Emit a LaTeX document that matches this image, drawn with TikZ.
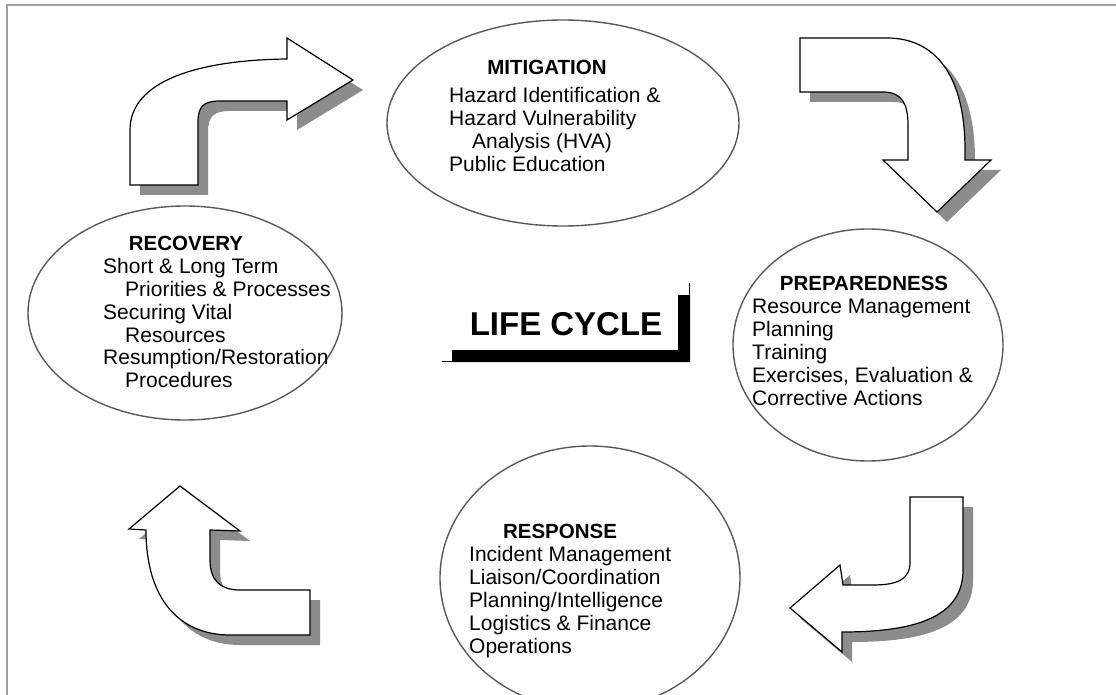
\documentclass[tikz,border=0pt]{standalone}
\usepackage{fontspec}
\setmainfont{Liberation Sans}
\usetikzlibrary{shapes.geometric}
\definecolor{shadowc}{HTML}{8C8C8C}
\definecolor{ellc}{HTML}{5A5A5A}
\definecolor{framec}{HTML}{A0A0A0}
\newcommand\blockarrow[1]{%
  \fill[shadowc, shift={(10,10)}] #1;
  \filldraw[fill=white, draw=black, line width=1.2pt, line join=miter] #1;}
\begin{document}
\begin{tikzpicture}[x=1pt,y=-1pt,
  phase/.style={ellipse, draw=ellc, line width=1.4pt, fill=white, inner sep=0},
  ttl/.style={anchor=base, inner sep=0, font=\fontsize{20.5}{23}\selectfont\bfseries},
  itm/.style={anchor=base west, inner sep=0, font=\fontsize{21}{23}\selectfont}]
\useasboundingbox (0,0) rectangle (1116,695);
\fill[white] (0,0) rectangle (1116,695);
% frame
\draw[framec, line width=2pt] (7,695) -- (7,5) -- (1116,5);

% ellipses
\node[phase, minimum width=352, minimum height=206] (mit) at (563,123) {};
\node[phase, minimum width=270, minimum height=232] (prep) at (868,345) {};
\node[phase, minimum width=300, minimum height=264] (resp) at (590,578) {};
\node[phase, minimum width=314, minimum height=214] (rec) at (185,313) {};

% arrows
% top-left: to mitigation
\blockarrow{(130,185) -- (198,185) -- (198,122) .. controls (198,106) and (204,101) .. (220,101)
  -- (287,101) -- (287,120) -- (353,80) -- (287,38) -- (287,59)
  .. controls (200,60) and (130,80) .. (130,130) -- cycle}
% top-right: to preparedness
\blockarrow{(800,38) -- (887,38) .. controls (935,38) and (965,75) .. (965,150)
  -- (965,160) -- (991,160) -- (937,212) -- (883,160) -- (908,160) -- (908,125)
  .. controls (908,104) and (902,92) .. (883,92) -- (800,92) -- cycle}
% bottom-right: to response
\blockarrow{(910,497) -- (963,497) -- (963,570) .. controls (963,615) and (920,632) .. (842,632)
  -- (842,652) -- (790,608) -- (840,565) -- (843,585) -- (872,585)
  .. controls (897,585) and (910,580) .. (910,562) -- cycle}
% bottom-left: to recovery
\blockarrow{(310,590) -- (240,590) .. controls (220,590) and (210,580) .. (210,560)
  -- (210,530) -- (240,531) -- (180,486) -- (129,529) -- (146,530)
  .. controls (146,600) and (180,635) .. (230,635) -- (310,635) -- cycle}

% life cycle
\fill[black] (452,350) -- (678,350) -- (678,295) -- (690,295) -- (690,362) -- (452,362) -- cycle;
\draw[black, line width=1pt] (442,361) -- (452,361);
\draw[black, line width=1pt] (689,283) -- (689,295);
\node[anchor=base, inner sep=0, font=\fontsize{33}{36}\selectfont\bfseries] (lc) at (566,335) {LIFE CYCLE};

% mitigation text
\node[ttl] (mitT) at (547,75) {MITIGATION};
\node[itm] (m1) at (449,103) {Hazard Identification \&};
\node[itm] (m2) at (449,126) {Hazard Vulnerability};
\node[itm] (m3) at (472,149) {Analysis (HVA)};
\node[itm] (m4) at (449,172) {Public Education};

% preparedness text
\node[ttl] (prepT) at (864,290) {PREPAREDNESS};
\node[itm] (p1) at (752,313) {Resource Management};
\node[itm] (p2) at (752,336) {Planning};
\node[itm] (p3) at (752,359) {Training};
\node[itm] (p4) at (752,382) {Exercises, Evaluation \&};
\node[itm] (p5) at (752,405) {Corrective Actions};

% response text
\node[ttl] (respT) at (560,538) {RESPONSE};
\node[itm] (r1) at (469,561) {Incident Management};
\node[itm] (r2) at (469,584) {Liaison/Coordination};
\node[itm] (r3) at (469,607) {Planning/Intelligence};
\node[itm] (r4) at (469,630) {Logistics \& Finance};
\node[itm] (r5) at (469,653) {Operations};

% recovery text
\node[ttl] (recT) at (186,250) {RECOVERY};
\node[itm] (c1) at (103,273) {Short \& Long Term};
\node[itm] (c2) at (125,296) {Priorities \& Processes};
\node[itm] (c3) at (103,319) {Securing Vital};
\node[itm] (c4) at (125,342) {Resources};
\node[itm] (c5) at (103,364) {Resumption/Restoration};
\node[itm] (c6) at (125,387) {Procedures};
\end{tikzpicture}
\end{document}
